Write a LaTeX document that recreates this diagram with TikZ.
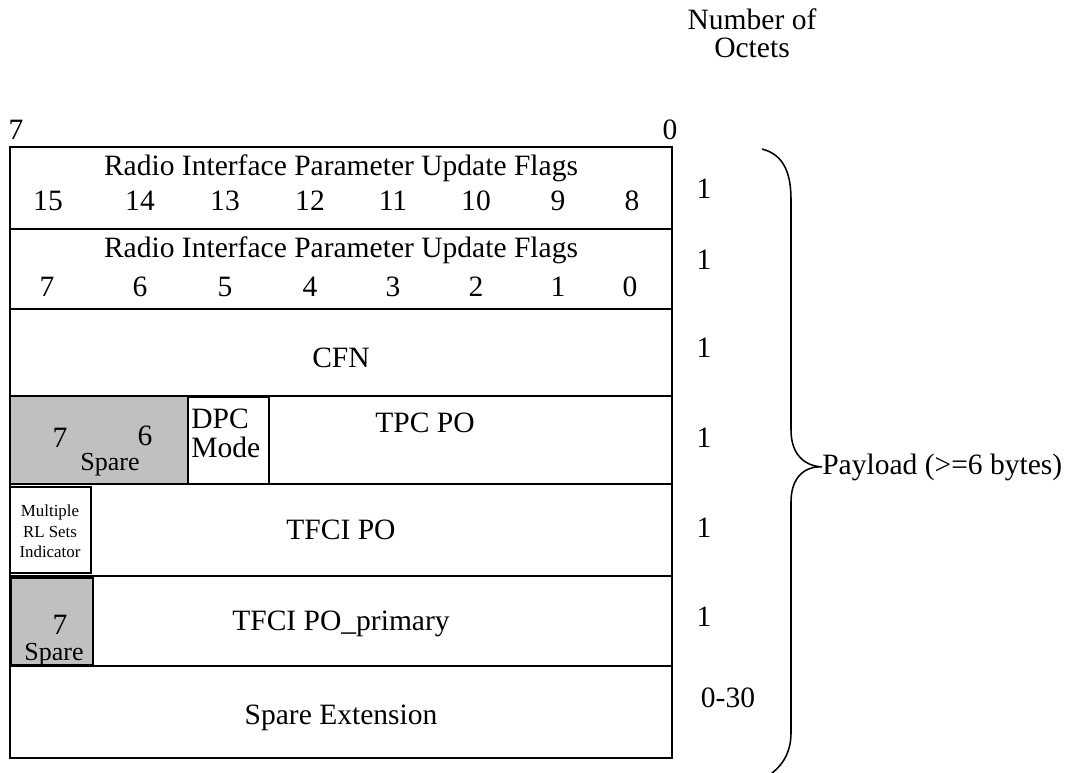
\documentclass[tikz,border=0pt]{standalone}
\usepackage{fontspec}
\setmainfont{Liberation Serif}

\tikzset{
    field/.style={draw, line width=1.3pt},
    spare/.style={field, fill=sparegray},
    txt/.style={font=\fontsize{21}{16}\selectfont, inner sep=0pt, anchor=base},
    smalltxt/.style={font=\fontsize{18.5}{14}\selectfont, inner sep=0pt, anchor=base},
    tinytxt/.style={font=\fontsize{12}{14}\selectfont, inner sep=0pt, anchor=base}
}
\definecolor{sparegray}{RGB}{192,192,192}

\begin{document}
\begin{tikzpicture}[x=0.025cm, y=-0.025cm]
\useasboundingbox (0,0) rectangle (1069,773);
\clip (0,0) rectangle (1069,773);

% rows of the frame
\draw[field] (10,147) rectangle (672,229);
\draw[field] (10,229) rectangle (672,309);
\draw[field] (10,309) rectangle (672,396);
\draw[field] (10,396) rectangle (672,484);
\draw[field] (10,484) rectangle (672,576);
\draw[field] (10,576) rectangle (672,666);
\draw[field] (10,666) rectangle (672,758);

% inner fields
\draw[spare] (10,396) rectangle (188,484);
\draw[field, line width=0.8pt] (188,397) rectangle (269,484);
\draw[field, line width=0.8pt] (10,487) rectangle (91,573);
\draw[spare, line width=0.8pt] (11,578) rectangle (93,665);

% header
\node[txt] (hdnum) at (752,30) {Number of};
\node[txt] (hdoct) at (752,58) {Octets};
\node[txt] (bitmsb) at (16,140) {7};
\node[txt] (bitlsb) at (670,140) {0};

% row 1 and 2
\node[txt] (flagshi) at (341,176) {Radio Interface Parameter Update Flags};
\foreach \b/\x in {15/48,14/140,13/225,12/310,11/393,10/476,9/558,8/632}
    \node[txt] (hi\b) at (\x,211) {\b};
\node[txt] (flagslo) at (341,258) {Radio Interface Parameter Update Flags};
\foreach \b/\x in {7/47,6/140,5/225,4/310,3/393,2/476,1/558,0/630}
    \node[txt] (lo\b) at (\x,297) {\b};

% row 3
\node[txt] (cfn) at (341,367) {CFN};

% row 4
\node[txt] (tpcsev) at (60,447) {7};
\node[txt] (tpcsix) at (145,445) {6};
\node[smalltxt] (tpcspare) at (110,470) {Spare};
\node[txt, anchor=base west] (dpc) at (191,428) {DPC};
\node[txt, anchor=base west] (mode) at (191,457) {Mode};
\node[txt] (tpcpo) at (425,432) {TPC PO};

% row 5
\node[tinytxt] (mult) at (50,516) {Multiple};
\node[tinytxt] (rlsets) at (50,537) {RL Sets};
\node[tinytxt] (indic) at (50,557) {Indicator};
\node[txt] (tfcipo) at (341,539) {TFCI PO};

% row 6
\node[txt] (primsev) at (60,634) {7};
\node[smalltxt] (primspare) at (54,660) {Spare};
\node[txt] (tfciprim) at (341,630) {TFCI PO\_primary};

% row 7
\node[txt] (spext) at (341,724) {Spare Extension};

% octet counts
\foreach \n/\y in {1/199,2/270,3/357,4/447,5/537,6/626}
    \node[txt] (oct\n) at (704,\y) {1};
\node[txt] (oct7) at (728,707) {0-30};

% brace
\coordinate (bracetop) at (762,149);
\coordinate (braceend) at (768,776);
\node[txt, anchor=base west] (payload) at (822,474) {Payload (>=6 bytes)};
\draw[line width=1.1pt] (bracetop) .. controls (785,155) and (791,175) .. (791,200)
    -- (791,430) .. controls (791,455) and (805,466) .. (payload.west)
    .. controls (805,466) and (791,477) .. (791,502)
    -- (791,733) .. controls (791,755) and (780,768) .. (braceend);
\end{tikzpicture}
\end{document}
